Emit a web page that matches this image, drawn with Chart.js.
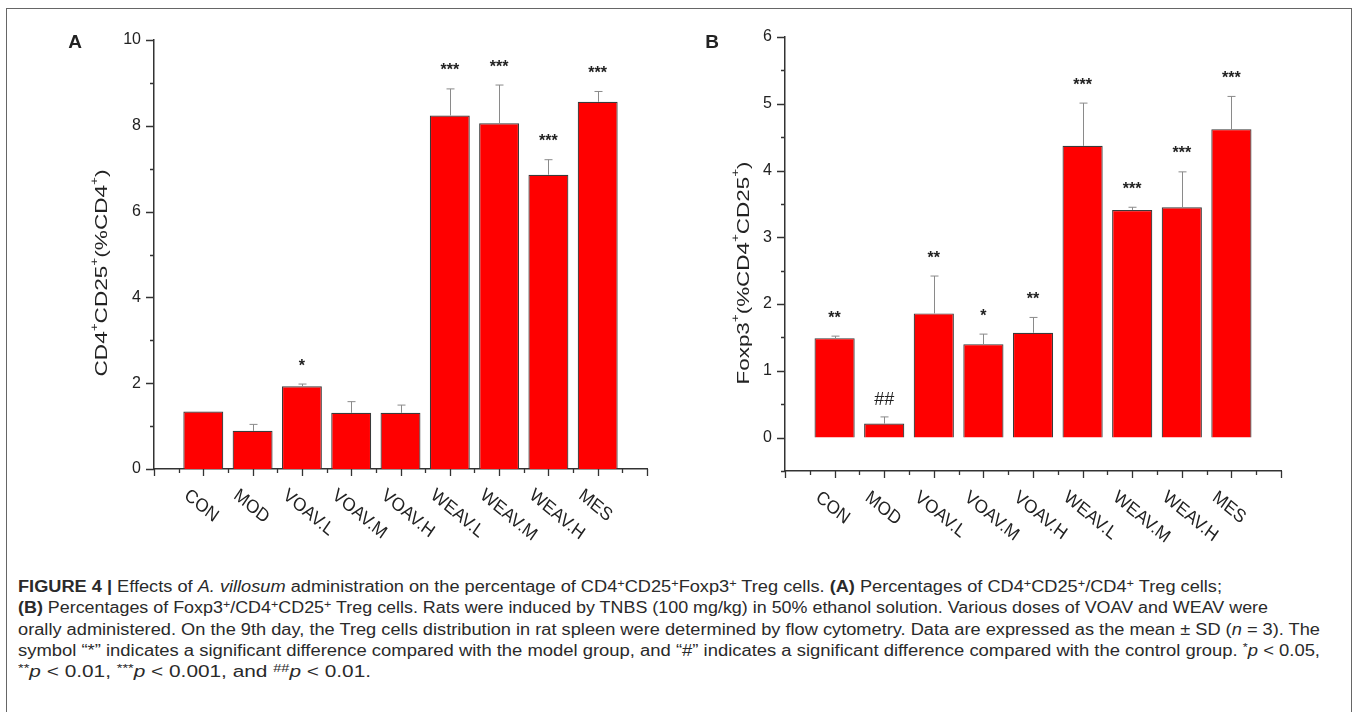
<!DOCTYPE html>
<html>
<head>
<meta charset="utf-8">
<script src="https://cdn.jsdelivr.net/npm/chart.js@4.4.0/dist/chart.umd.min.js"></script>
<style>
  html, body { margin: 0; padding: 0; background: #fff; }
  body { width: 1358px; height: 712px; overflow: hidden; position: relative; font-family: "Liberation Sans", Arial, sans-serif; }
  #frame { position: absolute; left: 6px; top: 8px; width: 1346px; height: 740px; border: 1.5px solid #666; box-sizing: border-box; }
  #chartA { position: absolute; left: 0; top: 0; }
  #chartB { position: absolute; left: 680px; top: 0; }
  #caption { position: absolute; left: 18px; top: 576px; font-size: 16px; line-height: 21.3px; color: #2a2a2a; }
  #caption div { white-space: nowrap; }
  #caption span.ln { display: inline-block; transform-origin: 0 50%; }
  sup { font-size: 0.7em; line-height: 0; vertical-align: 0.45em; }
</style>
</head>
<body>
<div id="frame"></div>
<canvas id="chartA" width="680" height="560"></canvas>
<canvas id="chartB" width="678" height="560"></canvas>
<div id="caption">
  <div><span class="ln"><b>FIGURE 4 |</b> Effects of <i>A. villosum</i> administration on the percentage of CD4<sup>+</sup>CD25<sup>+</sup>Foxp3<sup>+</sup> Treg cells. <b>(A)</b> Percentages of CD4<sup>+</sup>CD25<sup>+</sup>/CD4<sup>+</sup> Treg cells;</span></div>
  <div><span class="ln"><b>(B)</b> Percentages of Foxp3<sup>+</sup>/CD4<sup>+</sup>CD25<sup>+</sup> Treg cells. Rats were induced by TNBS (100 mg/kg) in 50% ethanol solution. Various doses of VOAV and WEAV were</span></div>
  <div><span class="ln">orally administered. On the 9th day, the Treg cells distribution in rat spleen were determined by flow cytometry. Data are expressed as the mean ± SD (<i>n</i> = 3). The</span></div>
  <div><span class="ln">symbol “*” indicates a significant difference compared with the model group, and “#” indicates a significant difference compared with the control group. <sup>*</sup><i>p</i> &lt; 0.05,</span></div>
  <div><span class="ln"><sup>**</sup><i>p</i> &lt; 0.01, <sup>***</sup><i>p</i> &lt; 0.001, and <sup>##</sup><i>p</i> &lt; 0.01.</span></div>
</div>
<script>
// data
var categories = ['CON', 'MOD', 'VOAV.L', 'VOAV.M', 'VOAV.H', 'WEAV.L', 'WEAV.M', 'WEAV.H', 'MES'];

// panel A: CD4+CD25+ (%CD4+)
var meanA = [1.34, 0.89, 1.93, 1.31, 1.31, 8.24, 8.06, 6.86, 8.56];
var sdA   = [0.00, 0.15, 0.05, 0.26, 0.18, 0.62, 0.89, 0.35, 0.24];
var sigA  = ['', '', '*', '', '', '***', '***', '***', '***'];
var yTicksA = [0, 2, 4, 6, 8, 10];

// panel B: Foxp3+ (%CD4+CD25+)
var meanB = [1.49, 0.21, 1.86, 1.40, 1.57, 4.37, 3.41, 3.45, 4.62];
var sdB   = [0.03, 0.10, 0.56, 0.15, 0.23, 0.64, 0.04, 0.53, 0.49];
var sigB  = ['**', '##', '**', '*', '**', '***', '***', '***', '***'];
var yTicksB = [0, 1, 2, 3, 4, 5, 6];

var FONT = '"Liberation Sans", Arial, sans-serif';

function drawTitle(ctx, parts, cx, baseX, len, size) {
    // rotated y title, stretched along its length like the original figure
    var w = 0, i;
    for (i = 0; i < parts.length; i++) {
        ctx.font = (parts[i][1] ? size * 0.6 : size) + 'px ' + FONT;
        w += ctx.measureText(parts[i][0]).width;
    }
    ctx.save();
    ctx.translate(baseX, cx);
    ctx.rotate(-Math.PI / 2);
    ctx.scale(len / w, 1);
    ctx.textBaseline = 'alphabetic';
    ctx.textAlign = 'left';
    var x = -w / 2;
    for (i = 0; i < parts.length; i++) {
        var sup = parts[i][1];
        ctx.font = (sup ? size * 0.6 : size) + 'px ' + FONT;
        ctx.fillText(parts[i][0], x, sup ? -size * 0.55 : 0);
        x += ctx.measureText(parts[i][0]).width;
    }
    ctx.restore();
}

var panelPlugin = {
    id: 'panel',
    afterDatasetsDraw: function(chart) {
        var p = chart.options.plugins.panel;
        var ctx = chart.ctx, xs = chart.scales.x, ys = chart.scales.y;
        ctx.save();
        // error bars (upper only)
        ctx.strokeStyle = '#8a8a8a';
        ctx.lineWidth = 1;
        for (var i = 0; i < p.mean.length; i++) {
            if (!p.sd[i]) continue;
            var px = Math.round(xs.getPixelForValue(i + 1)) + 0.5;
            var yb = ys.getPixelForValue(p.mean[i]);
            var yt = ys.getPixelForValue(p.mean[i] + p.sd[i]);
            ctx.beginPath();
            ctx.moveTo(px, yb); ctx.lineTo(px, yt);
            ctx.moveTo(px - 4, yt); ctx.lineTo(px + 4, yt);
            ctx.stroke();
        }
        // significance marks
        ctx.fillStyle = '#222';
        ctx.textAlign = 'center';
        for (i = 0; i < p.sig.length; i++) {
            if (!p.sig[i]) continue;
            var isHash = p.sig[i].indexOf('#') >= 0;
            ctx.font = isHash ? '18px ' + FONT : 'bold 16px ' + FONT;
            var m = ctx.measureText(p.sig[i]);
            var cy = ys.getPixelForValue(p.mean[i] + p.sd[i]) - (isHash ? 18 : 22);
            var base = cy + (m.actualBoundingBoxAscent - m.actualBoundingBoxDescent) / 2;
            ctx.fillText(p.sig[i], xs.getPixelForValue(i + 1), base);
        }
        ctx.restore();
    },
    afterDraw: function(chart) {
        var p = chart.options.plugins.panel;
        var ctx = chart.ctx, xs = chart.scales.x, ys = chart.scales.y;
        var v, px, py, major;
        ctx.save();
        ctx.strokeStyle = '#333';
        ctx.lineWidth = 1.3;
        ctx.beginPath();
        // y ticks, outward
        for (v = p.yMin; v <= p.yMax + 1e-9; v += p.minor) {
            major = p.yTicks.some(function(t) { return Math.abs(t - v) < 1e-6; });
            py = Math.round(ys.getPixelForValue(v)) + 0.5;
            ctx.moveTo(xs.left, py);
            ctx.lineTo(xs.left - (major ? 8 : 4), py);
        }
        // x ticks, outward
        for (v = 0; v <= 10; v += 0.5) {
            major = Math.abs(v - Math.round(v)) < 1e-6;
            px = Math.round(xs.getPixelForValue(v)) + 0.5;
            ctx.moveTo(px, ys.bottom);
            ctx.lineTo(px, ys.bottom + (major ? 7 : 4));
        }
        ctx.stroke();

        // category labels slanted down to the right
        ctx.fillStyle = '#222';
        ctx.font = '17px ' + FONT;
        ctx.textAlign = 'left';
        ctx.textBaseline = 'top';
        for (var i = 0; i < categories.length; i++) {
            px = xs.getPixelForValue(i + 1);
            ctx.save();
            ctx.translate(px - 12, ys.bottom + 17);
            ctx.scale(1, 1.1);
            ctx.rotate(37 * Math.PI / 180);
            ctx.fillText(categories[i], 0, 0);
            ctx.restore();
        }

        drawTitle(ctx, p.title, p.titleY, p.titleX, p.titleLen, 17);

        ctx.font = 'bold 19px ' + FONT;
        ctx.textAlign = 'center';
        ctx.textBaseline = 'middle';
        ctx.fillText(p.letter, p.letterX, p.letterY);
        ctx.restore();
    }
};

function makePanel(id, mean, sd, sig, yTicks, yMin, yMax, minor, pad, extra) {
    var ctx = document.getElementById(id).getContext('2d');
    var data = categories.map(function(c, i) { return { x: i + 1, y: mean[i] }; });
    return new Chart(ctx, {
        type: 'bar',
        data: {
            datasets: [{
                data: data,
                backgroundColor: '#ff0000',
                borderColor: '#3a3a3a',
                borderWidth: 1.2,
                barPercentage: 0.81,
                categoryPercentage: 1.0
            }]
        },
        options: {
            responsive: false,
            animation: false,
            layout: { padding: pad },
            plugins: {
                legend: { display: false },
                tooltip: { enabled: false },
                panel: Object.assign({ mean: mean, sd: sd, sig: sig, yTicks: yTicks, yMin: yMin, yMax: yMax, minor: minor }, extra)
            },
            scales: {
                x: {
                    type: 'linear',
                    min: 0,
                    max: 10,
                    offset: false,
                    grid: { display: false, drawTicks: false, offset: false },
                    border: { display: true, color: '#333', width: 1.5 },
                    ticks: { display: false },
                    afterFit: function(s) { s.height = 10; }
                },
                y: {
                    min: yMin,
                    max: yMax,
                    grid: { display: false, drawTicks: false },
                    border: { display: true, color: '#333', width: 1.5 },
                    ticks: { color: '#222', padding: 13, font: { family: FONT, size: 16 } },
                    afterBuildTicks: function(s) { s.ticks = yTicks.map(function(v) { return { value: v }; }); },
                    afterFit: function(s) { s.width = 50; }
                }
            }
        },
        plugins: [panelPlugin]
    });
}

// panel A: plot area x 154..647, y 40..469 (page px)
makePanel('chartA', meanA, sdA, sigA, yTicksA, 0, 10, 1,
    { left: 104, right: 33, top: 40, bottom: 81 },
    { letter: 'A', letterX: 75, letterY: 43, titleX: 107, titleY: 273, titleLen: 207,
      title: [['CD4', 0], ['+', 1], ['CD25', 0], ['+', 1], ['(%CD4', 0], ['+', 1], [')', 0]] });

// panel B: plot area x 785..1281, y 37..471 (page px), canvas starts at 680
makePanel('chartB', meanB, sdB, sigB, yTicksB, -0.5, 6, 0.5,
    { left: 55, right: 77, top: 37, bottom: 79 },
    { letter: 'B', letterX: 32, letterY: 43, titleX: 68.5, titleY: 273, titleLen: 223,
      title: [['Foxp3', 0], ['+', 1], ['(%CD4', 0], ['+', 1], ['CD25', 0], ['+', 1], [')', 0]] });

// caption lines fitted to the widths in the original
var lineWidths = [1204, 1250, 1302, 1302, 353];
document.querySelectorAll('#caption span.ln').forEach(function(el, i) {
    var w = el.getBoundingClientRect().width;
    el.style.transform = 'scaleX(' + (lineWidths[i] / w) + ')';
});
</script>
</body>
</html>
